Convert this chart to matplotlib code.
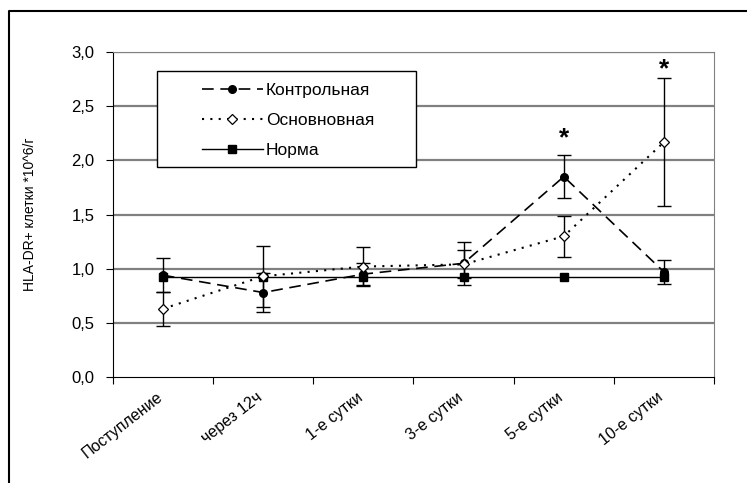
import matplotlib
matplotlib.use("Agg")
import matplotlib.pyplot as plt
from matplotlib.patches import Rectangle
from matplotlib.lines import Line2D
from matplotlib.transforms import ScaledTranslation

plt.rcParams['font.family'] = ['Liberation Sans', 'DejaVu Sans']

categories = ["Поступление", "через 12ч", "1-е сутки", "3-е сутки", "5-е сутки", "10-е сутки"]
control = [0.94, 0.78, 0.95, 1.05, 1.85, 0.97]
control_err = [0.155, 0.18, 0.10, 0.20, 0.20, 0.11]
main = [0.63, 0.93, 1.02, 1.04, 1.30, 2.17]
main_err = [0.155, 0.28, 0.18, 0.13, 0.19, 0.59]
norm = [0.92, 0.92, 0.92, 0.92, 0.92, 0.92]
star_pos = [4, 5]
star_y = [2.2, 2.84]
yticks = [0.0, 0.5, 1.0, 1.5, 2.0, 2.5, 3.0]
ytick_labels = ["0,0", "0,5", "1,0", "1,5", "2,0", "2,5", "3,0"]

fig = plt.figure(figsize=(7.47, 4.83), dpi=100)
ax = fig.add_axes([0.151, 0.2195, 0.805, 0.6725])

x = list(range(len(categories)))

for y in yticks[1:]:
    ax.axhline(y, color='#808080', lw=1.6, zorder=0)

ax.errorbar(x, control, yerr=control_err, fmt='none', ecolor='black', elinewidth=1, capsize=5, capthick=1, zorder=3)
ax.errorbar(x, main, yerr=main_err, fmt='none', ecolor='black', elinewidth=1, capsize=5, capthick=1, zorder=3)

ax.plot(x, control, color='black', lw=1.2, linestyle=(0, (7, 4)), marker='o', markersize=5.5,
        markerfacecolor='black', markeredgecolor='black', label='Контрольная', zorder=4)
ax.plot(x, main, color='black', lw=1.5, linestyle=(0, (1, 3)), marker='D', markersize=5,
        markerfacecolor='white', markeredgecolor='black', markeredgewidth=0.9, label='Основновная', zorder=5)
ax.plot(x, norm, color='black', lw=1.0, linestyle='-', marker='s', markersize=5.5,
        markerfacecolor='black', markeredgecolor='black', label='Норма', zorder=4)

for p, sy in zip(star_pos, star_y):
    ax.text(p, sy, '*', ha='center', va='center', fontsize=19, fontweight='bold')

ax.set_xlim(-0.5, len(categories) - 0.5)
ax.set_ylim(0, 3.0)
ax.set_yticks(yticks)
ax.set_yticklabels(ytick_labels, fontsize=12)
ax.set_xticks([i + 0.5 for i in range(-1, len(categories))], minor=False)
ax.set_xticklabels([])
ax.set_xticks(x, minor=True)
ax.set_xticklabels(categories, minor=True, rotation=38, ha='right', rotation_mode='anchor', fontsize=11.5)
ax.tick_params(axis='x', which='minor', length=0, pad=9)
ax.tick_params(axis='x', which='major', length=5, direction='out')
ax.tick_params(axis='y', length=5, direction='out', pad=8)
shift = ScaledTranslation(-7 / 100, 0, fig.dpi_scale_trans)
for lab in ax.get_xticklabels(minor=True):
    lab.set_transform(lab.get_transform() + shift)

ax.spines['left'].set_color('black')
ax.spines['bottom'].set_color('black')
ax.spines['top'].set_color('#808080')
ax.spines['right'].set_color('#808080')

ax.set_ylabel('HLA-DR+ клетки *10^6/г', fontsize=10, labelpad=25)

leg = ax.legend(loc='upper left', bbox_to_anchor=(0.148, 0.905), frameon=False,
                fontsize=12.5, handlelength=3.5, labelspacing=0.85,
                borderpad=0, handletextpad=0.2, borderaxespad=0)
ax.add_patch(Rectangle((0.073, 0.646), 0.431, 0.2955, transform=ax.transAxes,
                       fill=True, facecolor='white', edgecolor='black', lw=1.0, zorder=6))
leg.set_zorder(7)

fig.add_artist(Line2D([0.012, 0.012, 1.0], [0.0, 0.977, 0.977], transform=fig.transFigure,
                      color='black', lw=1.5))

fig.savefig('out.png', dpi=100)
